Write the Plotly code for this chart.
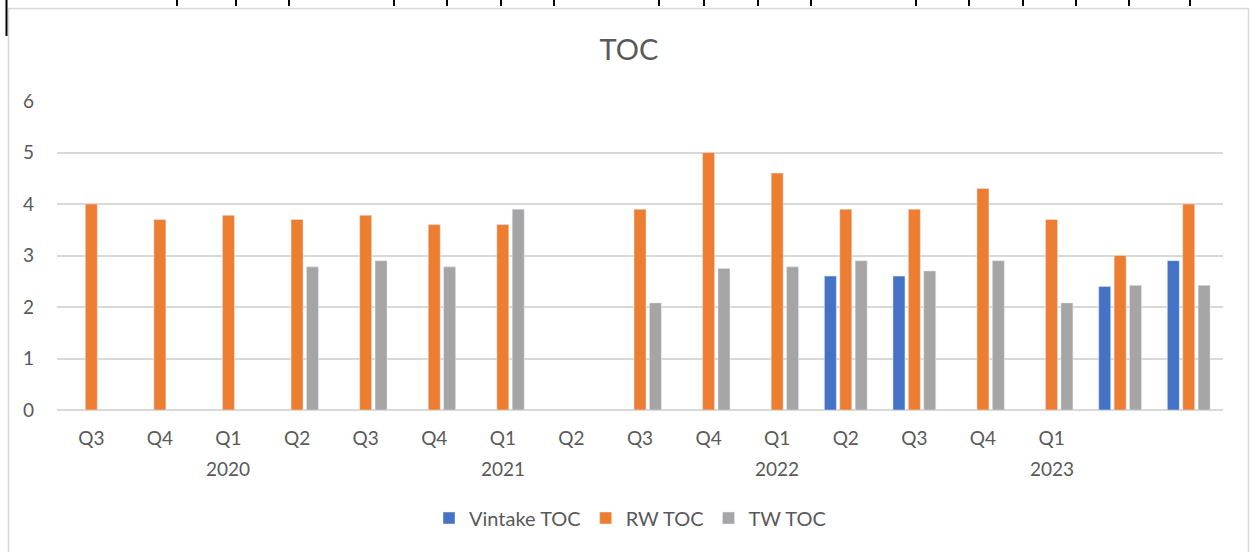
import plotly.graph_objects as go

categories = ["2019 Q3", "2019 Q4", "2020 Q1", "2020 Q2", "2020 Q3", "2020 Q4",
              "2021 Q1", "2021 Q2", "2021 Q3", "2021 Q4", "2022 Q1", "2022 Q2",
              "2022 Q3", "2022 Q4", "2023 Q1", "2023 Q2", "2023 Q3"]
tick_labels = ["Q3", "Q4", "Q1", "Q2", "Q3", "Q4", "Q1", "Q2", "Q3", "Q4",
               "Q1", "Q2", "Q3", "Q4", "Q1", "", ""]
year_labels = {"2020 Q1": "2020", "2021 Q1": "2021", "2022 Q1": "2022", "2023 Q1": "2023"}

vintake_toc = [None, None, None, None, None, None, None, None, None, None, None,
               2.6, 2.6, None, None, 2.4, 2.9]
rw_toc = [4.0, 3.7, 3.78, 3.7, 3.78, 3.6, 3.6, None, 3.9, 5.0, 4.6,
          3.9, 3.9, 4.3, 3.7, 3.0, 4.0]
tw_toc = [None, None, None, 2.78, 2.9, 2.78, 3.9, None, 2.08, 2.75, 2.78,
          2.9, 2.7, 2.9, 2.08, 2.42, 2.42]

FONT = "Lato"
TXT = "#595959"

fig = go.Figure()
fig.add_bar(x=categories, y=vintake_toc, name="Vintake TOC", marker_color="#4472C4")
fig.add_bar(x=categories, y=rw_toc, name="RW TOC", marker_color="#ED7D31")
fig.add_bar(x=categories, y=tw_toc, name="TW TOC", marker_color="#A5A5A5")

# plot area pixel geometry
L, R, T, B = 57, 1223, 101, 410
W, H = R - L, B - T


def px(xp):
    return (xp - L) / W


def py(yp):
    return (B - yp) / H


shapes = []
# light chart-area border
shapes.append(dict(type="rect", xref="paper", yref="paper",
                   x0=px(8.5), x1=px(1248.5), y0=py(570), y1=py(8.5),
                   line=dict(color="#d9d9d9", width=1.5), fillcolor="rgba(0,0,0,0)", layer="below"))
# black ruler marks at the top
for mx in [177, 236, 289, 394, 447, 501, 554, 659, 704, 758, 811, 916, 969, 1023, 1076, 1129, 1190]:
    shapes.append(dict(type="line", xref="paper", yref="paper",
                       x0=px(mx), x1=px(mx), y0=py(0), y1=py(6),
                       line=dict(color="black", width=2)))
shapes.append(dict(type="line", xref="paper", yref="paper",
                   x0=px(6.5), x1=px(6.5), y0=py(0), y1=py(36),
                   line=dict(color="black", width=2)))

annotations = []
for cat, yr in year_labels.items():
    annotations.append(dict(x=cat, xref="x", y=py(468), yref="paper", text=yr,
                            showarrow=False, yanchor="middle",
                            font=dict(family=FONT, size=19, color=TXT)))

fig.update_layout(
    width=1250, height=552,
    margin=dict(l=L, r=1250 - R, t=T, b=552 - B),
    paper_bgcolor="white", plot_bgcolor="white",
    title=dict(text="TOC", x=629 / 1250, xref="container", xanchor="center",
               y=1 - 50 / 552, yref="container", yanchor="middle",
               font=dict(family=FONT, size=29, color=TXT)),
    barmode="group", bargap=0.327, bargroupgap=0.22,
    font=dict(family=FONT, size=19, color=TXT),
    showlegend=True,
    legend=dict(orientation="h", x=px(630), xanchor="center", y=py(518), yanchor="middle",
                font=dict(family=FONT, size=20, color=TXT), itemwidth=30,
                traceorder="normal", bgcolor="rgba(0,0,0,0)"),
    shapes=shapes,
    annotations=annotations,
)
fig.update_xaxes(type="category", categoryorder="array", categoryarray=categories,
                 tickmode="array", tickvals=categories, ticktext=tick_labels,
                 showgrid=False, showline=False, zeroline=False, ticks="",
                 ticklabelstandoff=15, tickfont=dict(family=FONT, size=19, color=TXT))
fig.update_yaxes(range=[0, 6], dtick=1, showgrid=True, gridcolor="#d9d9d9", gridwidth=1.5,
                 zeroline=True, zerolinecolor="#d9d9d9", zerolinewidth=1.5,
                 showline=False, ticks="", ticklabelstandoff=22,
                 tickfont=dict(family=FONT, size=19, color=TXT))

fig.write_html("out.html", config={"displayModeBar": False},
               post_script="document.body.style.margin='0';document.body.style.overflow='hidden';")
